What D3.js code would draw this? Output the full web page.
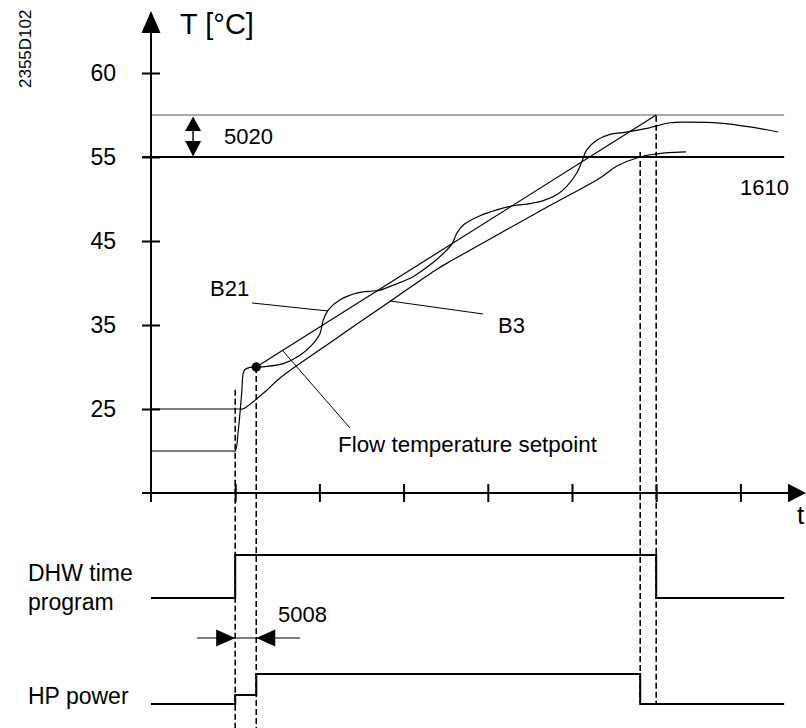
<!DOCTYPE html>
<html><head><meta charset="utf-8">
<script src="https://cdn.jsdelivr.net/npm/d3@7"></script>
<style>
body{margin:0;background:#fff}
svg{display:block}
text{font-family:"Liberation Sans",Arial,sans-serif;fill:#000}
</style>
</head><body>
<svg id="c" width="806" height="728"></svg>
<script>
// ---- data (schematic: time in grid units, temperature in °C) ----
const tempTicks = [60, 55, 45, 35, 25];
const tempBreaks = [15, 25, 35, 45, 55, 60];       // non-proportional schematic axis
const timeTicks = [1, 2, 3, 4, 5, 6, 7];
const dhwSetpoint = 55;                             // 1610
const switchDiff = 57.5;                            // 55 + 5020
const setpointLine = [[1.25, 30], [6.0, 57.5]];     // Flow temperature setpoint
const b21 = [[0,20],[0.97,20],[1.0,20],[1.037,22.5],[1.077,26.9],[1.096,29.3],[1.116,29.7],[1.176,29.96],[1.255,30.0],
  [1.354,30.05],[1.571,30.4],[1.77,31.4],[1.909,32.6],[2.007,34.0],[2.046,35.6],[2.106,36.8],[2.245,38.0],
  [2.443,38.8],[2.64,39.05],[2.72,39.15],[2.918,39.9],[3.112,40.75],[3.23,41.55],[3.393,42.8],[3.571,44.6],
  [3.631,45.9],[3.709,46.9],[3.907,48.0],[4.106,48.7],[4.303,49.2],[4.501,49.45],[4.659,49.8],[4.818,50.5],
  [4.937,51.5],[5.056,53.1],[5.115,54.4],[5.175,55.42],[5.293,56.0],[5.451,56.35],[5.609,56.45],[5.887,56.7],
  [6.164,57.04],[6.366,57.08],[6.758,57.02],[7.114,56.79],[7.447,56.49]];
const b3 = [[0,25],[1.05,25],[1.09,25],[1.378,27.26],[1.532,28.7],[2.126,32.9],[2.838,37.8],[3.373,41.5],[3.575,42.7],
  [4.679,48.9],[5.333,52.5],[5.53,53.9],[5.808,55.0],[6.105,55.24],[6.354,55.3]];
const dhwSignal = [[0,0],[1.0,1],[6.0,0],[7.52,0]];
const hpSignal = [[0,0],[1.0,0.3],[1.25,1],[5.81,0],[7.52,0]];
const eventTimes = [1.0, 1.25, 5.81, 6.0];
const eventTops = [27.3, 30, 55.3, 57.45];

// ---- scales ----
const x = d3.scaleLinear().domain([0, 7]).range([151, 740.4]);
const y = d3.scaleLinear().domain(tempBreaks).range([493, 409, 325, 241, 157, 73]);
const dhwY = d3.scaleLinear().domain([0, 1]).range([598, 555]);
const hpY = d3.scaleLinear().domain([0, 1]).range([704, 674]);

const svg = d3.select("#c");
const FONT = 22;

// reference lines
svg.append("line").attr("x1", x(0)).attr("x2", x(7.52)).attr("y1", y(switchDiff)).attr("y2", y(switchDiff))
  .attr("stroke", "#555").attr("stroke-width", 1.2);
svg.append("line").attr("x1", x(0) - 9).attr("x2", x(7.52)).attr("y1", y(dhwSetpoint)).attr("y2", y(dhwSetpoint))
  .attr("stroke", "#000").attr("stroke-width", 2);

// axes
const styleAxis = g => {
  g.select(".domain").remove();
  g.selectAll("line").attr("stroke", "#000").attr("stroke-width", 2);
  g.selectAll("text").attr("font-size", 23).attr("font-family", '"Liberation Sans",Arial,sans-serif').attr("fill", "#000");
};
svg.append("g").attr("transform", `translate(${x(0)},0)`)
  .call(d3.axisLeft(y).tickValues(tempTicks).tickSize(9).tickPadding(26)).call(styleAxis);
svg.append("g").attr("transform", `translate(${x(0)},0)`)
  .call(d3.axisRight(y).tickValues(tempTicks).tickSize(9).tickFormat("")).call(styleAxis);
svg.append("g").attr("transform", `translate(0,${y(15)})`)
  .call(d3.axisBottom(x).tickValues(timeTicks).tickSize(9).tickFormat("")).call(styleAxis);
svg.append("g").attr("transform", `translate(0,${y(15)})`)
  .call(d3.axisTop(x).tickValues(timeTicks).tickSize(9).tickFormat("")).call(styleAxis);

// axis lines + arrows
svg.append("line").attr("x1", x(0)).attr("x2", x(0)).attr("y1", y(15) + 9).attr("y2", 30)
  .attr("stroke", "#000").attr("stroke-width", 2);
svg.append("path").attr("d", `M${x(0)},11 L${x(0) - 9.5},33 L${x(0) + 9.5},33 Z`).attr("fill", "#000");
svg.append("line").attr("x1", x(0) - 9).attr("x2", 790).attr("y1", y(15)).attr("y2", y(15))
  .attr("stroke", "#000").attr("stroke-width", 2);
svg.append("path").attr("d", `M806,${y(15)} L788,${y(15) - 9.3} L788,${y(15) + 9.3} Z`).attr("fill", "#000");
svg.append("text").attr("x", 180).attr("y", 34).attr("font-size", 29).text("T [°C]");
svg.append("text").attr("x", 797).attr("y", 524).attr("font-size", 26).text("t");

// curves
const line = d3.line().x(d => x(d[0])).y(d => y(d[1]));
const smooth = d3.line().x(d => x(d[0])).y(d => y(d[1])).curve(d3.curveCatmullRom.alpha(0.5));
svg.append("path").datum(setpointLine).attr("d", line).attr("fill", "none").attr("stroke", "#000").attr("stroke-width", 1.2);
svg.append("path").datum(b3).attr("d", smooth).attr("fill", "none").attr("stroke", "#000").attr("stroke-width", 1.2);
svg.append("path").datum(b21).attr("d", smooth).attr("fill", "none").attr("stroke", "#000").attr("stroke-width", 1.2);
svg.append("circle").attr("cx", x(setpointLine[0][0])).attr("cy", y(setpointLine[0][1])).attr("r", 4.7).attr("fill", "#000");

// dashed event lines
const bottoms = [728, 728, 703, 703];
eventTimes.forEach((t, i) => {
  svg.append("line").attr("x1", x(t)).attr("x2", x(t)).attr("y1", y(eventTops[i])).attr("y2", bottoms[i])
    .attr("stroke", "#000").attr("stroke-width", 1.6).attr("stroke-dasharray", "6,3");
});

// signals
const stepLine = sc => d3.line().x(d => x(d[0])).y(d => sc(d[1])).curve(d3.curveStepAfter);
svg.append("path").datum(dhwSignal).attr("d", stepLine(dhwY)).attr("fill", "none").attr("stroke", "#000").attr("stroke-width", 2);
svg.append("path").datum(hpSignal).attr("d", stepLine(hpY)).attr("fill", "none").attr("stroke", "#000").attr("stroke-width", 2);

// leader lines (anchored in data units)
const leaders = [
  [[1.2, 37.62], [2.102, 36.67]],
  [[2.838, 37.86], [3.943, 36.31]],
  [[1.568, 31.9], [2.363, 22.74]]
];
leaders.forEach(l => svg.append("path").datum(l).attr("d", line)
  .attr("stroke", "#000").attr("stroke-width", 1).attr("fill", "none"));

// 5020 double arrow
const ax = x(0.5);
svg.append("line").attr("x1", ax).attr("x2", ax).attr("y1", y(switchDiff) + 14).attr("y2", y(dhwSetpoint) - 14).attr("stroke", "#000").attr("stroke-width", 1.5);
svg.append("path").attr("d", `M${ax},${y(switchDiff) + 1.5} L${ax - 8},${y(switchDiff) + 16} L${ax + 8},${y(switchDiff) + 16} Z`).attr("fill", "#000");
svg.append("path").attr("d", `M${ax},${y(dhwSetpoint) - 0.5} L${ax - 8},${y(dhwSetpoint) - 16} L${ax + 8},${y(dhwSetpoint) - 16} Z`).attr("fill", "#000");

// 5008 dimension
const dy5008 = 638;
svg.append("line").attr("x1", x(0.546)).attr("x2", x(1.77)).attr("y1", dy5008).attr("y2", dy5008).attr("stroke", "#000").attr("stroke-width", 1.2);
svg.append("path").attr("d", `M${x(1.0)},${dy5008} L${x(1.0) - 19},${dy5008 - 8.5} L${x(1.0) - 19},${dy5008 + 8.5} Z`).attr("fill", "#000");
svg.append("path").attr("d", `M${x(1.25)},${dy5008} L${x(1.25) + 19},${dy5008 - 8.5} L${x(1.25) + 19},${dy5008 + 8.5} Z`).attr("fill", "#000");

// labels
const label = (t, px, py, size) => svg.append("text").attr("x", px).attr("y", py).attr("font-size", size || FONT).text(t);
label("5020", 224, 144);
label("1610", 740, 195);
label("B21", 210, 296);
label("B3", 498, 333);
label("Flow temperature setpoint", 338, 452, 22.4);
label("DHW time", 28, 581, 23);
label("program", 28, 610, 23);
label("HP power", 28, 704, 23);
label("5008", 278, 622);
svg.append("text").attr("transform", "translate(31,88) rotate(-90)").attr("font-size", 17).text("2355D102");
</script>
</body></html>
